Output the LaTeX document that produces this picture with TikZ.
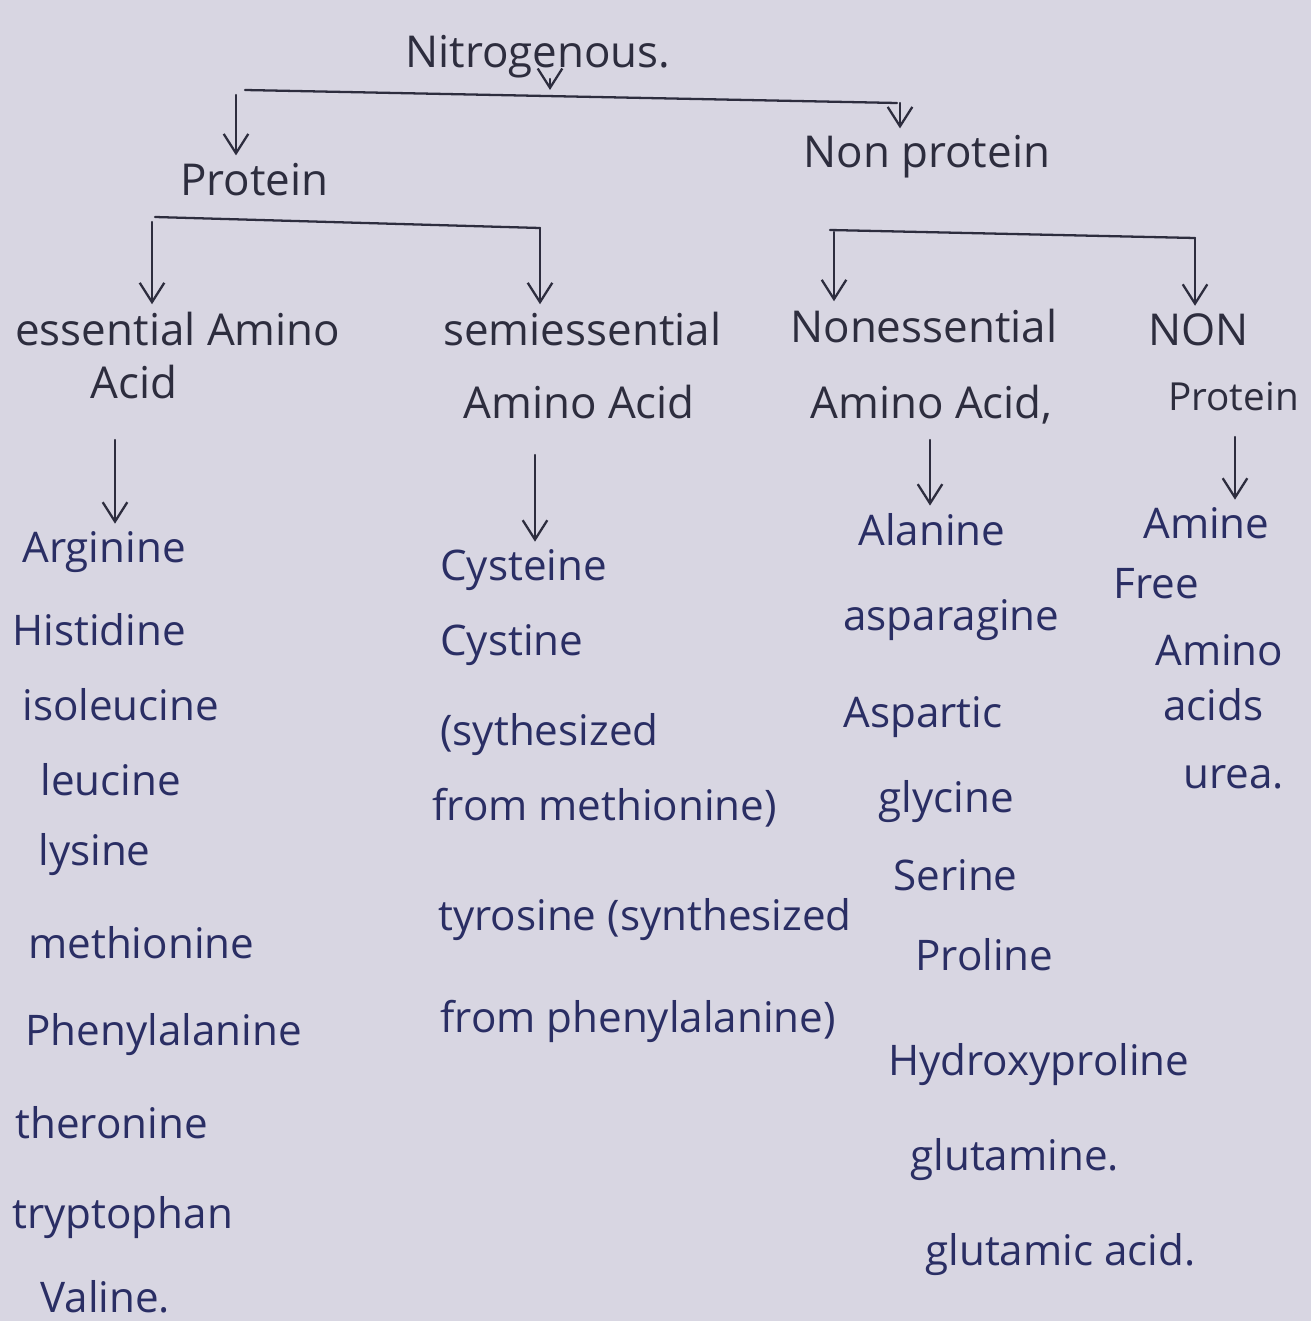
\documentclass[tikz,border=0pt]{standalone}
\usepackage{fontspec}
\setmainfont{Open Sans}
\usetikzlibrary{arrows.meta}
\definecolor{paper}{RGB}{216,214,226}
\definecolor{ink}{RGB}{45,45,62}
\definecolor{blueink}{RGB}{42,46,100}
\tikzset{
 hd/.style={anchor=base west, inner sep=0pt, text=ink, font=\fontsize{25}{28}\selectfont},
 it/.style={anchor=base west, inner sep=0pt, text=blueink, font=\fontsize{24}{28}\selectfont},
 ln/.style={draw=ink, line width=1.3pt, line cap=round, line join=round},
 arr/.style={ln, -{Straight Barb[length=11pt,width=14pt,line width=1.3pt]}, shorten >=4pt},
}
\begin{document}
\begin{tikzpicture}[x=0.02cm,y=-0.02cm]
\fill[paper] (0,0) rectangle (1311,1321);
\useasboundingbox (0,0) rectangle (1311,1321);

% ---------- headings ----------
\node[hd] (nit) at (405,68) {Nitrogenous.};
\node[hd] (prot) at (180,195) {Protein};
\node[hd] (nonp) at (803,168) {Non protein};

\node[hd] (ess1) at (15,345) {essential Amino};
\node[hd] (ess2) at (90,398) {Acid};
\node[hd] (semi1) at (443,345) {semiessential};
\node[hd] (semi2) at (463,418) {Amino Acid};
\node[hd] (noness1) at (790,342) {Nonessential};
\node[hd] (noness2) at (810,418) {Amino Acid,};
\node[hd] (np1) at (1148,345) {NON};
\node[hd, font=\fontsize{22}{26}\selectfont] (np2) at (1168,410) {Protein};

% ---------- essential list ----------
\node[it] (arg) at (22,562) {Arginine};
\node[it] (his) at (12,645) {Histidine};
\node[it] (ile) at (22,720) {isoleucine};
\node[it] (leu) at (40,795) {leucine};
\node[it] (lys) at (38,865) {lysine};
\node[it] (met) at (28,958) {methionine};
\node[it] (phe) at (25,1045) {Phenylalanine};
\node[it] (thr) at (15,1138) {theronine};
\node[it] (trp) at (12,1228) {tryptophan};
\node[it] (val) at (40,1312) {Valine.};

% ---------- semiessential list ----------
\node[it] (cys) at (440,580) {Cysteine};
\node[it] (cyst) at (440,655) {Cystine};
\node[it] (syn1) at (440,745) {(sythesized};
\node[it] (syn2) at (432,820) {from methionine)};
\node[it] (tyr1) at (438,930) {tyrosine (synthesized};
\node[it] (tyr2) at (440,1032) {from phenylalanine)};

% ---------- nonessential list ----------
\node[it] (ala) at (858,545) {Alanine};
\node[it] (asn) at (843,630) {asparagine};
\node[it] (asp) at (843,727) {Aspartic};
\node[it] (gly) at (878,812) {glycine};
\node[it] (ser) at (893,890) {Serine};
\node[it] (pro) at (915,970) {Proline};
\node[it] (hyp) at (888,1075) {Hydroxyproline};
\node[it] (gln) at (910,1170) {glutamine.};
\node[it] (glu) at (925,1265) {glutamic acid.};

% ---------- non protein list ----------
\node[it] (amn) at (1143,538) {Amine};
\node[it] (fr1) at (1113,598) {Free};
\node[it] (fr2) at (1155,665) {Amino};
\node[it] (fr3) at (1163,720) {acids};
\node[it] (ure) at (1183,788) {urea.};

% ---------- brackets ----------
\coordinate (b1m) at (550,97);
\coordinate (b1l) at (245,90);
\coordinate (b1r) at (897,103);
\draw[arr] (nit.south -| b1m) -- (b1m);
\draw[ln] (b1l) -- (b1r);
\coordinate (p1) at (236,95);
\draw[arr] (p1) -- (p1 |- prot.north);
\coordinate (p2) at (900,103);
\draw[arr] (p2) -- (p2 |- nonp.north);

\coordinate (b2l) at (155,217);
\coordinate (b2r) at (540,228);
\draw[ln] (b2l) -- (b2r);
\coordinate (q1) at (152,222);
\draw[arr] (q1) -- (q1 |- ess1.north);
\draw[arr] (b2r) -- (b2r |- semi1.north);

\coordinate (b3l) at (830,230);
\coordinate (b3r) at (1195,238);
\draw[ln] (b3l) -- (b3r);
\coordinate (r1) at (834,232);
\draw[arr] (r1) -- (r1 |- noness1.north);
\draw[arr] (b3r) -- (b3r |- np1.north);

% ---------- column arrows ----------
\coordinate (c1) at (115,440);
\draw[arr] (c1) -- (c1 |- arg.north);
\coordinate (c2) at (535,455);
\draw[arr] (c2) -- (c2 |- cys.north);
\coordinate (c3) at (930,440);
\draw[arr] (c3) -- (c3 |- ala.north);
\coordinate (c4) at (1235,437);
\draw[arr] (c4) -- (c4 |- amn.north);
\end{tikzpicture}
\end{document}
